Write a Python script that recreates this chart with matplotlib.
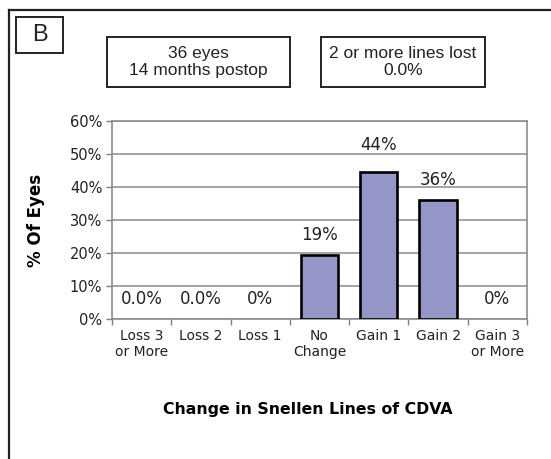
import matplotlib.pyplot as plt
from matplotlib.patches import Rectangle
from matplotlib.lines import Line2D
import numpy as np

categories = ['Loss 3\nor More', 'Loss 2', 'Loss 1', 'No\nChange', 'Gain 1', 'Gain 2', 'Gain 3\nor More']
percent_eyes = [0.0, 0.0, 0.0, 19.4, 44.4, 36.1, 0.0]
value_labels = ['0.0%', '0.0%', '0%', '19%', '44%', '36%', '0%']
y_ticks = [0, 10, 20, 30, 40, 50, 60]

fig = plt.figure(figsize=(5.51, 4.59), dpi=100)
fig.patch.set_facecolor('white')
ax = fig.add_axes([112 / 551, 1 - 319 / 459, 415 / 551, 198 / 459])

x = np.arange(len(categories))
bars = ax.bar(x, percent_eyes, width=0.63, color='#9496c8', edgecolor='black', linewidth=1.9, zorder=3)
for b, v in zip(bars, percent_eyes):
    if v == 0:
        b.set_visible(False)

# подписи значений над столбиками
for i, (v, lab) in enumerate(zip(percent_eyes, value_labels)):
    off = 20 if v > 40 else 14.5
    ax.annotate(lab, xy=(i, v), xytext=(0, off), textcoords='offset points',
                ha='center', va='center', fontsize=12, color='#222222',
                family='DejaVu Sans')

ax.set_xlim(-0.5, len(categories) - 0.5)
ax.set_ylim(0, 60)
ax.set_yticks(y_ticks)
ax.set_yticklabels([f'{t}%' for t in y_ticks], fontsize=10.5, color='#222222')
ax.set_xticks(x)
ax.set_xticklabels(categories, fontsize=10, color='#222222', linespacing=1.25)
ax.tick_params(axis='x', length=0, pad=7)
ax.set_xticks(np.arange(-0.5, len(categories), 1), minor=True)
ax.tick_params(axis='x', which='minor', length=4, color='#808080', width=1)
ax.tick_params(axis='y', length=4, color='#808080', width=1, pad=3)
ax.grid(axis='y', color='#8c8c8c', linewidth=1.1, zorder=0)
for s in ax.spines.values():
    s.set_color('#8c8c8c')
    s.set_linewidth(1.2)

ax.set_ylabel('% Of Eyes', fontsize=12, fontweight='bold')
ax.yaxis.set_label_coords(-(112 - 45) / 415, 0.5)
ax.set_xlabel('Change in Snellen Lines of CDVA', fontsize=11.3, fontweight='bold')
ax.xaxis.set_label_coords((308 - 112) / 415, -(402 - 319) / 198)

# рамка вокруг рисунка
fig.add_artist(Line2D([9 / 551, 9 / 551], [0, 1 - 10 / 459], transform=fig.transFigure,
                      color='#222222', linewidth=1.6))
fig.add_artist(Line2D([9 / 551, 1], [1 - 10 / 459, 1 - 10 / 459], transform=fig.transFigure,
                      color='#222222', linewidth=1.6))


def box(x0, y0, x1, y1, text, size):
    fig.add_artist(Rectangle((x0 / 551, 1 - y1 / 459), (x1 - x0) / 551, (y1 - y0) / 459,
                             transform=fig.transFigure, facecolor='white',
                             edgecolor='#222222', linewidth=1.4))
    fig.text((x0 + x1) / 2 / 551, 1 - (y0 + y1) / 2 / 459, text, ha='center', va='center',
             fontsize=size, family='Liberation Sans', linespacing=1.15, color='#222222')


box(16, 17, 63, 53, 'B', 17)
box(107, 37, 290, 87, '36 eyes\n14 months postop', 12.5)
box(321, 37, 485, 87, '2 or more lines lost\n0.0%', 12.5)

fig.savefig('out.png', dpi=100, facecolor=fig.get_facecolor())
